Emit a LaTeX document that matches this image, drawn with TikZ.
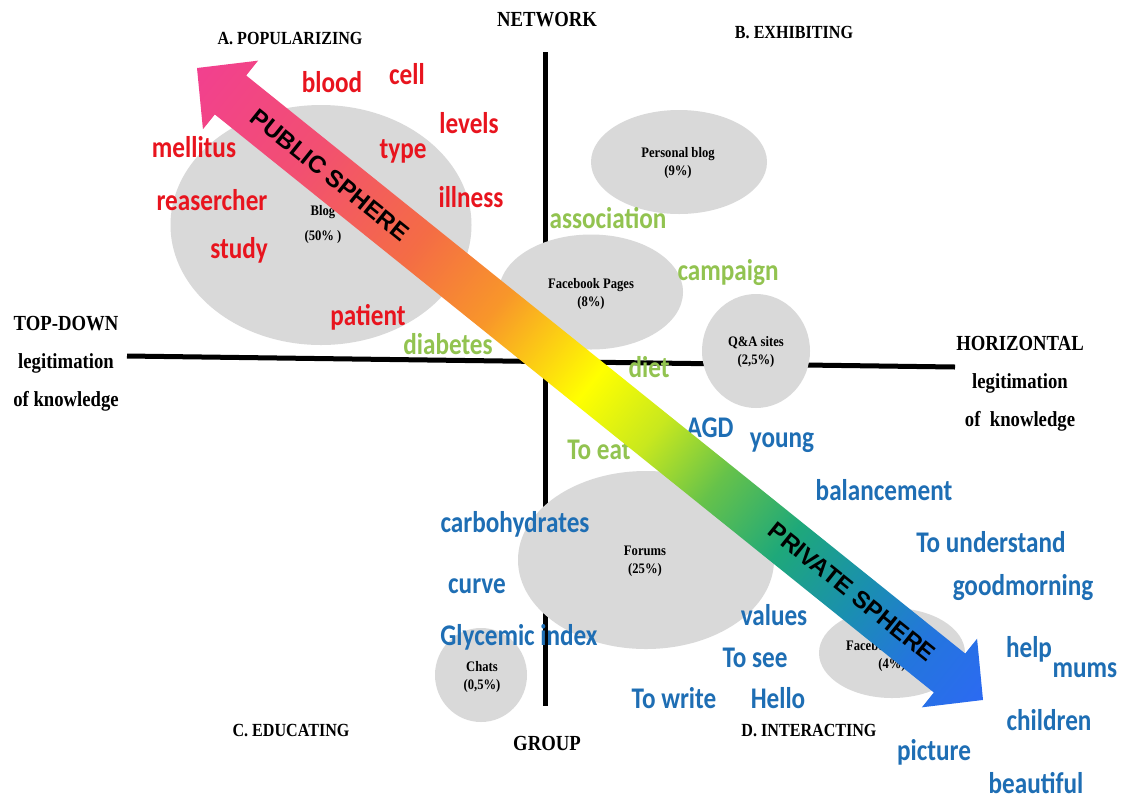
\documentclass[tikz,border=0pt]{standalone}
\usepackage{fontspec}
\setmainfont{Liberation Serif}
\newfontfamily\wordfont[FakeStretch=0.84]{Carlito}
\newfontfamily\labfont[FakeStretch=0.87]{Liberation Serif}
\newfontfamily\spherefont{Liberation Sans}
\usetikzlibrary{shapes.geometric}

\definecolor{blobgray}{HTML}{D9D9D9}
\definecolor{popred}{HTML}{E8141E}
\definecolor{netgreen}{HTML}{92C350}
\definecolor{grpblue}{HTML}{1E6EB4}
\definecolor{sp0}{HTML}{F2408F}
\definecolor{sp1}{HTML}{F24F72}
\definecolor{sp2}{HTML}{F46C45}
\definecolor{sp3}{HTML}{F8962A}
\definecolor{sp4}{HTML}{FFFF00}
\definecolor{sp5}{HTML}{C8E81E}
\definecolor{sp6}{HTML}{66C24A}
\definecolor{sp7}{HTML}{1EA87A}
\definecolor{sp8}{HTML}{1A8FB0}
\definecolor{sp9}{HTML}{2475DE}
\definecolor{sp10}{HTML}{2C6AF2}
\pgfdeclarehorizontalshading{spheregrad}{100bp}{color(0bp)=(sp0); color(25bp)=(sp0);
  color(32bp)=(sp1); color(39bp)=(sp2); color(44bp)=(sp3); color(50bp)=(sp4);
  color(54bp)=(sp5); color(58bp)=(sp6); color(62.5bp)=(sp7); color(67bp)=(sp8);
  color(71bp)=(sp9); color(75bp)=(sp10); color(100bp)=(sp10)}

\begin{document}
\begin{tikzpicture}[x=1pt,y=-1pt,
	blob/.style={ellipse,fill=blobgray,inner sep=0pt},
	tag/.style={font=\labfont\bfseries\fontsize{14.5}{18}\selectfont,align=center,inner sep=0pt},
	word/.style={font=\wordfont\bfseries\fontsize{30}{36}\selectfont,anchor=base,inner sep=0pt},
	wred/.style={word,text=popred},
	wgreen/.style={word,text=netgreen},
	wblue/.style={word,text=grpblue},
	axislab/.style={font=\labfont\bfseries\fontsize{21.5}{38}\selectfont,align=center},
	quadlab/.style={font=\labfont\bfseries\fontsize{18.5}{20}\selectfont},
	axisline/.style={line width=5pt},
	spheretxt/.style={font=\spherefont\bfseries\fontsize{24}{26}\selectfont,rotate=-38.8}]
	\useasboundingbox[fill=white] (0,0) rectangle (1126,796);
	% axes
	\coordinate (west) at (127,356);
	\coordinate (east) at (955,367);
	\coordinate (north) at (545,52);
	\coordinate (south) at (545,706);
	\draw[axisline] (west) -- (east);
	\draw[axisline] (north) -- (south);
	\node[axislab] (network) at (547,20) {NETWORK};
	\node[axislab] (group) at (547,743) {GROUP};
	\node[axislab] (topdown) at (66,364) {TOP-DOWN\\legitimation\\of knowledge};
	\node[axislab] (horiz) at (1020,384) {HORIZONTAL\\legitimation\\of~ knowledge};
	\node[quadlab] (quadA) at (290,39) {A. POPULARIZING};
	\node[quadlab] (quadB) at (794,33) {B. EXHIBITING};
	\node[quadlab] (quadC) at (291,730) {C. EDUCATING};
	\node[quadlab] (quadD) at (809,730) {D. INTERACTING};
	% media
	\node[blob,minimum width=301pt,minimum height=240pt] (blog) at (321,225) {};
	\node[blob,minimum width=176pt,minimum height=104pt] (pblog) at (679,162) {};
	\node[blob,minimum width=184pt,minimum height=115pt] (fbpages) at (591,292) {};
	\node[blob,minimum width=108pt,minimum height=114pt] (qa) at (756,351) {};
	\node[blob,minimum width=256pt,minimum height=178pt] (forums) at (646,560) {};
	\node[blob,minimum width=92pt,minimum height=94pt] (chats) at (481,675) {};
	\node[blob,minimum width=146pt,minimum height=90pt] (fbgroups) at (892,653) {};
	\node[tag] (blogtag) at (323,225) {Blog\\[7pt](50\% )};
	\node[tag] (pblogtag) at (678,163) {Personal blog\\(9\%)};
	\node[tag] (fbpagestag) at (591,294) {Facebook Pages\\(8\%)};
	\node[tag] (qatag) at (756,352) {Q\&A sites\\(2,5\%)};
	\node[tag] (forumstag) at (645,561) {Forums\\(25\%)};
	\node[tag] (chatstag) at (482,677) {Chats\\(0,5\%)};
	\node[tag] (fbgroupstag) at (892,656) {Facebook groups\\(4\%)};
	% words
	\node[wred] (blood) at (332,92) {blood};
	\node[wred] (cell) at (407,84) {cell};
	\node[wred] (levels) at (469,133) {levels};
	\node[wred] (mellitus) at (194,157) {mellitus};
	\node[wred] (type) at (403,158) {type};
	\node[wred] (illness) at (471,207) {illness};
	\node[wred] (reasercher) at (212,210) {reasercher};
	\node[wred] (study) at (239,258) {study};
	\node[wred] (patient) at (368,325) {patient};
	\node[wgreen] (association) at (608,228) {association};
	\node[wgreen] (campaign) at (728,280) {campaign};
	\node[wgreen] (diabetes) at (448,354) {diabetes};
	\node[wgreen] (diet) at (649,377) {diet};
	\node[wgreen] (toeat) at (599,459) {To eat};
	\node[wblue] (agd) at (710,437) {AGD};
	\node[wblue] (young) at (782,447) {young};
	\node[wblue] (balancement) at (884,500) {balancement};
	\node[wblue] (carbo) at (515,532) {carbohydrates};
	\node[wblue] (understand) at (991,552) {To understand};
	\node[wblue] (goodmorning) at (1023,595) {goodmorning};
	\node[wblue] (curve) at (477,593) {curve};
	\node[wblue] (values) at (774,625) {values};
	\node[wblue] (glycemic) at (519,645) {Glycemic index};
	\node[wblue] (help) at (1029,657) {help};
	\node[wblue] (mums) at (1085,677) {mums};
	\node[wblue] (tosee) at (755,667) {To see};
	\node[wblue] (towrite) at (674,708) {To write};
	\node[wblue] (hello) at (778,708) {Hello};
	\node[wblue] (children) at (1049,730) {children};
	\node[wblue] (picture) at (934,760) {picture};
	\node[wblue] (beautiful) at (1036,793) {beautiful};
	% public / private arrow
	\begin{scope}[transform canvas={shift={(197,68)},rotate=-38.8}]
		\shade[shading=spheregrad] (0,0) -- (43,-44) -- (43,-25) -- (965.6,-25) -- (965.6,-44)
			-- (1008.6,0) -- (965.6,44) -- (965.6,25) -- (43,25) -- (43,44) -- cycle;
	\end{scope}
	\node[spheretxt] (public) at (330,175) {PUBLIC SPHERE};
	\node[spheretxt] (private) at (852,592) {PRIVATE SPHERE};
\end{tikzpicture}
\end{document}
